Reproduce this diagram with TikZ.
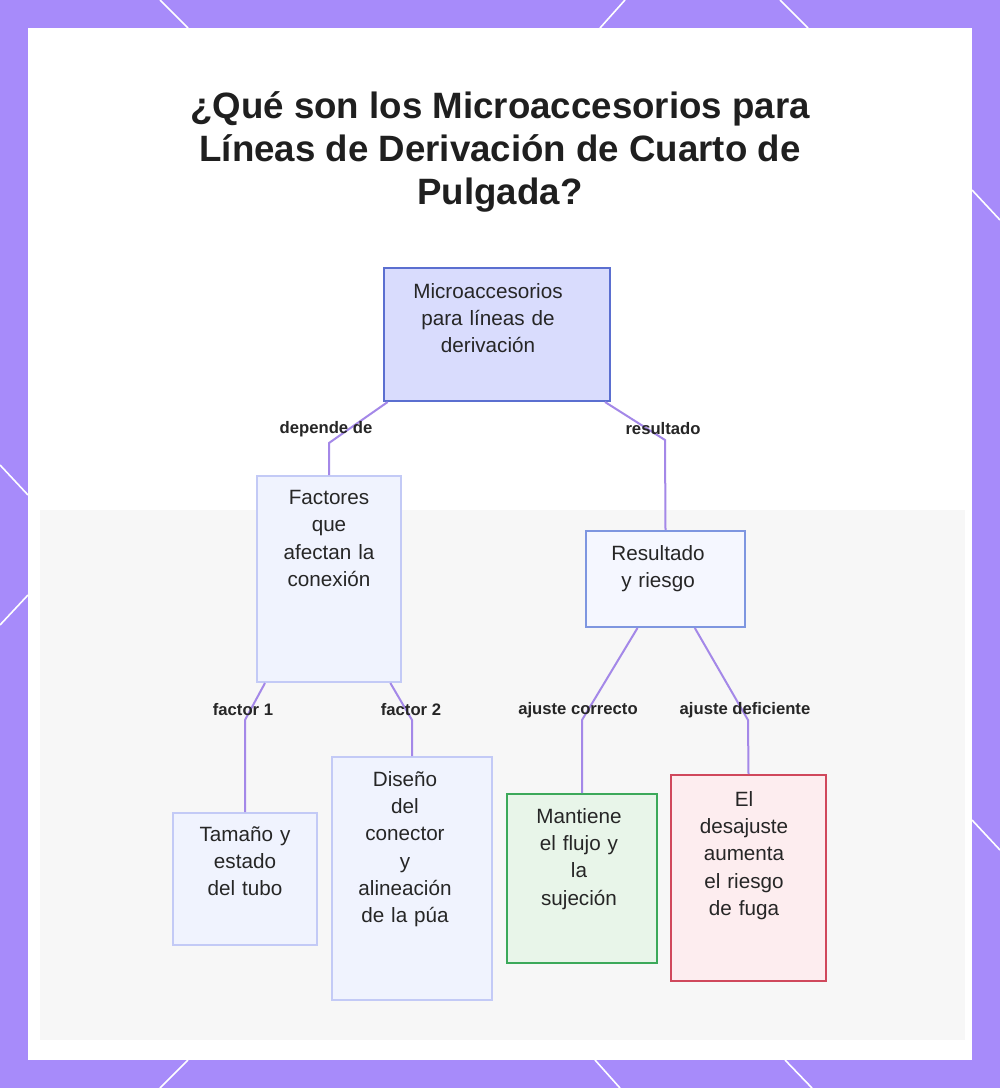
\documentclass[tikz,border=0pt]{standalone}
\usepackage{fontspec}
\setmainfont{Liberation Sans}
\begin{document}
\begin{tikzpicture}[x=0.75pt,y=-0.75pt,
  box/.style={draw,line width=1.5pt,rectangle,inner sep=0pt},
  txt/.style={anchor=north,align=center,font=\fontsize{15.5}{20.5}\selectfont,text=black!85,inner sep=0pt},
  lab/.style={font=\bfseries\fontsize{12.5}{14}\selectfont,text=black!85,inner sep=1pt},
  con/.style={draw=ln,line width=1.5pt}]
\definecolor{fr}{HTML}{A78BFA}
\definecolor{ln}{HTML}{A488E8}
\definecolor{topf}{HTML}{D9DCFD}\definecolor{topd}{HTML}{5B6FD0}
\definecolor{lf}{HTML}{F0F3FE}\definecolor{ld}{HTML}{C3CAF6}
\definecolor{rd}{HTML}{7E96E0}\definecolor{rf}{HTML}{F5F7FF}
\definecolor{gf}{HTML}{E8F5E9}\definecolor{gd}{HTML}{3CA95A}
\definecolor{redf}{HTML}{FDEDEF}\definecolor{redd}{HTML}{D0485C}
\useasboundingbox (0,0) rectangle (1000,1088);
\fill[fr] (0,0) rectangle (1000,1088);
\fill[white] (28,28) rectangle (972,1060);
\fill[black!3] (40,510) rectangle (965,1040);
\foreach \a/\b/\c/\d in {160/0/188/28, 625/0/600/28, 780/0/808/28, 972/190/1000/220, 972/820/1000/850, 0/465/28/495, 28/595/0/625, 160/1088/188/1060, 620/1088/595/1060, 785/1060/812/1088}
  \draw[white,line width=1.2pt] (\a,\b)--(\c,\d);
\node[font=\bfseries\fontsize{27.5}{32.5}\selectfont,align=center,text=black!88] (title) at (500,152) {¿Qué son los Microaccesorios para\\Líneas de Derivación de Cuarto de\\Pulgada?};
% boxes
\node[box,fill=topf,draw=topd,minimum width=169.5pt,minimum height=99.75pt] (top) at (497,334.5) {};
\node[box,fill=lf,draw=ld,minimum width=108pt,minimum height=154.5pt] (fac) at (329,579) {};
\node[box,fill=rf,draw=rd,minimum width=119.25pt,minimum height=72pt] (res) at (665.5,579) {};
\node[box,fill=lf,draw=ld,minimum width=108pt,minimum height=99pt] (tam) at (245,879) {};
\node[box,fill=lf,draw=ld,minimum width=120pt,minimum height=182.25pt] (dis) at (412,878.5) {};
\node[box,fill=gf,draw=gd,minimum width=112.5pt,minimum height=126.75pt] (man) at (582,878.5) {};
\node[box,fill=redf,draw=redd,minimum width=116.25pt,minimum height=154.5pt] (des) at (748.5,878) {};
% texts
\node[txt,text width=165pt] (ttop) at (488,283) {Microaccesorios\\para líneas de\\derivación};
\node[txt,text width=100pt] (tfac) at (329,490) {Factores\\que\\afectan la\\conexión};
\node[txt,text width=110pt] (tres) at (658,545) {Resultado\\y riesgo};
\node[txt,text width=100pt] (ttam) at (245,826) {Tamaño y\\estado\\del tubo};
\node[txt,text width=110pt] (tdis) at (405,771) {Diseño\\del\\conector\\y\\alineación\\de la púa};
\node[txt,text width=100pt] (tman) at (579,808) {Mantiene\\el flujo y\\la\\sujeción};
\node[txt,text width=100pt] (tdes) at (744,791) {El\\desajuste\\aumenta\\el riesgo\\de fuga};
% connectors
\coordinate (k1) at (329,443); \coordinate (k2) at (665,440);
\coordinate (k3) at (245,720); \coordinate (k4) at (412,720);
\coordinate (k5) at (582,720); \coordinate (k6) at (748,720);
\draw[con] ([xshift=-82pt]top.south) -- (k1) -- (fac.north);
\draw[con] ([xshift=81pt]top.south) -- (k2) -- (res.north);
\draw[con] ([xshift=-48pt]fac.south) -- (k3) -- (tam.north);
\draw[con] ([xshift=46pt]fac.south) -- (k4) -- (dis.north);
\draw[con] ([xshift=-21pt]res.south) -- (k5) -- (man.north);
\draw[con] ([xshift=22pt]res.south) -- (k6) -- (des.north);
\node[lab] (l1) at (326,429) {depende de};
\node[lab] (l2) at (663,429) {resultado};
\node[lab] (l3) at (243,710) {factor 1};
\node[lab] (l4) at (411,710) {factor 2};
\node[lab] (l5) at (578,710) {ajuste correcto};
\node[lab] (l6) at (745,710) {ajuste deficiente};
\end{tikzpicture}
\end{document}
